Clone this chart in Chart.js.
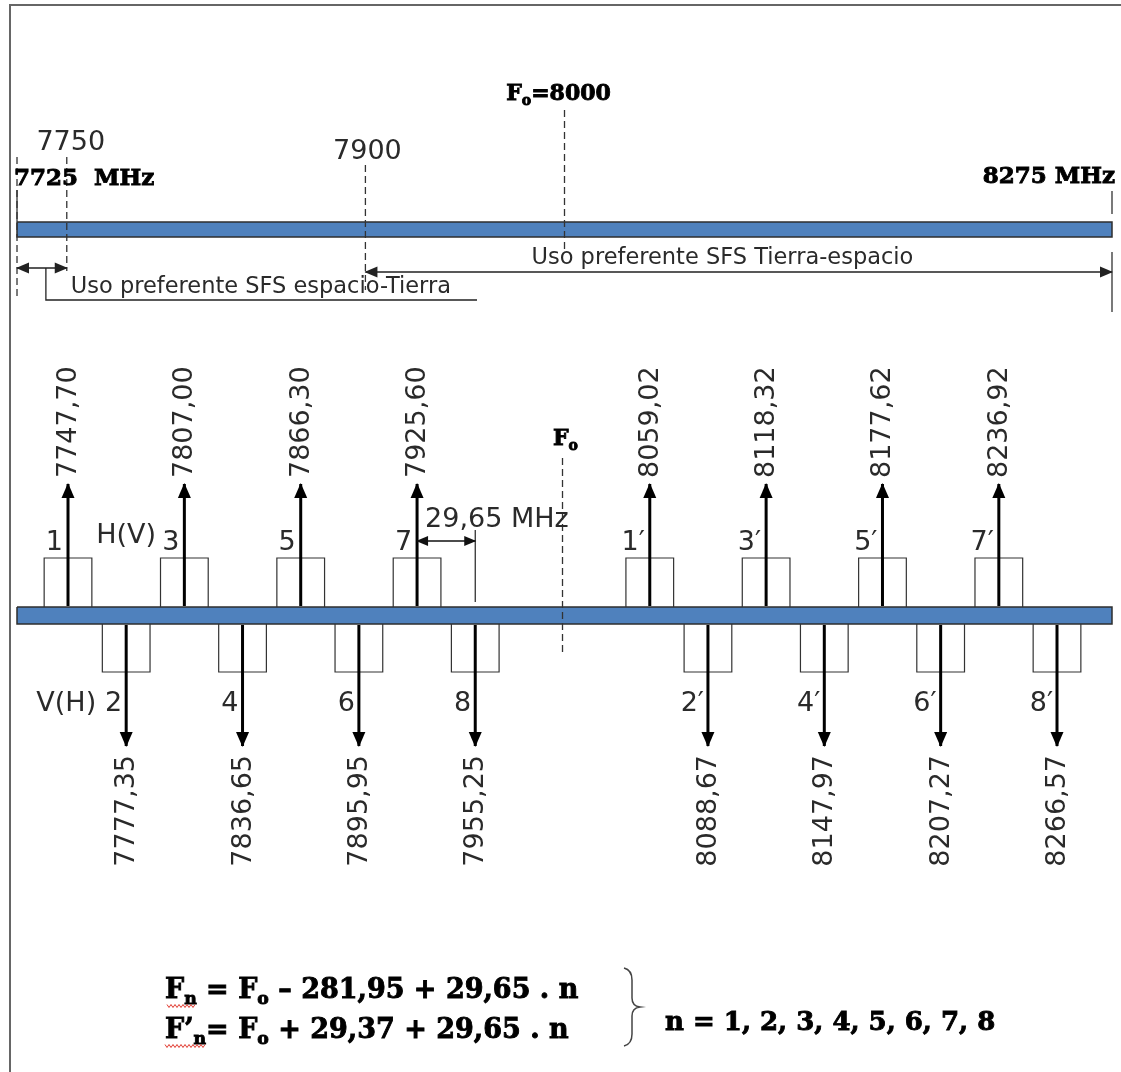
<!DOCTYPE html>
<html>
<head>
<meta charset="utf-8">
<script src="https://cdn.jsdelivr.net/npm/chart.js@4.4.1/dist/chart.umd.min.js"></script>
<style>
  html, body { margin: 0; padding: 0; background: #fff; }
  #wrap { position: relative; width: 1121px; height: 1072px; }
</style>
</head>
<body>
<div id="wrap"><canvas id="plan"></canvas></div>
<script>
// band (MHz)
const bandEdges = [7725, 8275];
const useLimits = [7750, 7900];   // end of espacio-Tierra / start of Tierra-espacio
const centreFreq = 8000;
const channelSpacing = 29.65;

// channel plan, H(V) above the band, V(H) below
const upNames = ['1', '3', '5', '7', '1′', '3′', '5′', '7′'];
const upFreqs = [7747.70, 7807.00, 7866.30, 7925.60, 8059.02, 8118.32, 8177.62, 8236.92];
const downNames = ['2', '4', '6', '8', '2′', '4′', '6′', '8′'];
const downFreqs = [7777.35, 7836.65, 7895.95, 7955.25, 8088.67, 8147.97, 8207.27, 8266.57];

// the channel row is drawn schematically: evenly spaced, two empty slots round Fo
const channels = upFreqs.map((f, i) => ({ f, name: upNames[i], up: true }))
  .concat(downFreqs.map((f, i) => ({ f, name: downNames[i], up: false })))
  .sort((a, b) => a.f - b.f);
channels.forEach((c, k) => { c.slot = k + (c.f > centreFreq ? 2 : 0); });
const lastLow = Math.max(...channels.filter(c => c.f < centreFreq).map(c => c.slot));
const firstHigh = Math.min(...channels.filter(c => c.f > centreFreq).map(c => c.slot));
const centreSlot = (lastLow + firstHigh) / 2;
const slotOf = name => channels.find(c => c.name === name).slot;

// vertical layout (rows of the drawing, top = 0)
const ROW = {
  topBar: [222, 237], lowBar: [607, 624],
  upBoxTop: 558, downBoxBot: 672,
  upTip: 484, downTip: 746,
  leftUse: 268, rightUse: 272, dim: 541
};
const BOX_HALF = 0.41;  // half channel width, in slots

function pairs(list) {
  const out = [];
  list.forEach(([x1, y1, x2, y2, h1, h2]) => {
    out.push({ x: x1, y: y1, head: !!h1 }, { x: x2, y: y2, head: !!h2 }, { x: x2, y: null });
  });
  return out;
}
function rect(x1, x2, y1, y2) {
  return [{ x: x1, y: y1 }, { x: x2, y: y1 }, { x: x2, y: y2 }, { x: x1, y: y2 }, { x: x1, y: y1 }];
}
function boxes(up) {
  const out = [];
  channels.filter(c => c.up === up).forEach(c => {
    const y0 = up ? ROW.lowBar[0] : ROW.lowBar[1];
    const y1 = up ? ROW.upBoxTop : ROW.downBoxBot;
    out.push({ x: c.slot - BOX_HALF, y: y0 }, { x: c.slot - BOX_HALF, y: y1 },
             { x: c.slot + BOX_HALF, y: y1 }, { x: c.slot + BOX_HALF, y: y0 }, { x: c.slot, y: null });
  });
  return out;
}

const datasets = [
  { // channel carriers
    xAxisID: 's', borderColor: '#000', borderWidth: 3, headLen: 14, headHalf: 6.5, order: 1,
    data: pairs(channels.map(c => c.up
      ? [c.slot, ROW.lowBar[0] - 1, c.slot, ROW.upTip, false, true]
      : [c.slot, ROW.lowBar[1] + 1, c.slot, ROW.downTip, false, true]))
  },
  { // 29,65 MHz spacing
    xAxisID: 's', borderColor: '#111', borderWidth: 1.5, headLen: 11, headHalf: 5, order: 1,
    data: pairs([[slotOf('7'), ROW.dim, slotOf('8'), ROW.dim, true, true]])
  },
  {
    xAxisID: 's', borderColor: '#222', borderWidth: 1.2, order: 1,
    data: pairs([[slotOf('8'), 530, slotOf('8'), 602]])
  },
  { // Fo in the channel row
    xAxisID: 's', borderColor: '#333', borderWidth: 1.3, borderDash: [7, 4], order: 1,
    data: pairs([[centreSlot, 458, centreSlot, 653]])
  },
  { xAxisID: 's', borderColor: '#333', borderWidth: 1.2, order: 2, data: boxes(true) },
  { xAxisID: 's', borderColor: '#333', borderWidth: 1.2, order: 2, data: boxes(false) },
  { // band limits, dashed
    borderColor: '#333', borderWidth: 1.3, borderDash: [7, 4], order: 1,
    data: pairs([
      [bandEdges[0], 157, bandEdges[0], 297],
      [useLimits[0], 157, useLimits[0], 271],
      [useLimits[1], 165, useLimits[1], 290],
      [centreFreq, 110, centreFreq, 250]
    ])
  },
  {
    borderColor: '#333', borderWidth: 1.3, order: 1,
    data: pairs([
      [bandEdges[0], 190, bandEdges[0], ROW.topBar[0]],
      [bandEdges[1], 191, bandEdges[1], 214],
      [bandEdges[1], 252, bandEdges[1], 312]
    ])
  },
  { // preferred use ranges
    borderColor: '#222', borderWidth: 1.3, headLen: 12, headHalf: 5.5, order: 1,
    data: pairs([
      [bandEdges[0], ROW.leftUse, useLimits[0], ROW.leftUse, true, true],
      [useLimits[1], ROW.rightUse, bandEdges[1], ROW.rightUse, true, true]
    ])
  },
  { // the band
    borderColor: '#2e2e2e', borderWidth: 1.5, backgroundColor: '#4f81bd', fill: 'shape', order: 5,
    data: rect(bandEdges[0], bandEdges[1], ROW.topBar[0], ROW.topBar[1])
  },
  {
    borderColor: '#2e2e2e', borderWidth: 1.5, backgroundColor: '#4f81bd', fill: 'shape', order: 5,
    data: rect(bandEdges[0], bandEdges[1], ROW.lowBar[0], ROW.lowBar[1])
  }
];

const frame = {
  id: 'frame',
  beforeDraw(chart) {
    const ctx = chart.ctx;
    ctx.save();
    ctx.strokeStyle = '#666';
    ctx.lineWidth = 2;
    ctx.beginPath();
    ctx.moveTo(10, 1072); ctx.lineTo(10, 5); ctx.lineTo(1121, 5);
    ctx.stroke();
    ctx.restore();
  }
};

const arrowHeads = {
  id: 'arrowHeads',
  afterDatasetsDraw(chart) {
    const ctx = chart.ctx;
    chart.data.datasets.forEach((ds, i) => {
      if (!ds.headLen) return;
      const pts = chart.getDatasetMeta(i).data;
      ds.data.forEach((d, j) => {
        if (!d.head) return;
        const p = pts[j], q = pts[j % 3 === 0 ? j + 1 : j - 1];
        const a = Math.atan2(p.y - q.y, p.x - q.x);
        ctx.save();
        ctx.translate(p.x, p.y);
        ctx.rotate(a);
        ctx.beginPath();
        ctx.moveTo(1, 0);
        ctx.lineTo(-ds.headLen, -ds.headHalf);
        ctx.lineTo(-ds.headLen, ds.headHalf);
        ctx.closePath();
        ctx.fillStyle = ds.borderColor;
        ctx.fill();
        ctx.restore();
      });
    });
  }
};

const SANS = '"DejaVu Sans", Verdana, sans-serif';
const SERIF = '"DejaVu Serif", Georgia, serif';
const fmt = v => v.toFixed(2).replace('.', ',');

// bold serif text with subscripts, thickened a little with a stroke
function rich(ctx, parts, x, y, size, family, align) {
  const widthOf = p => {
    ctx.font = `bold ${p.sub ? size * 0.64 : size}px ${family}`;
    return ctx.measureText(p.t).width;
  };
  const total = parts.reduce((s, p) => s + widthOf(p), 0);
  let cx = align === 'center' ? x - total / 2 : align === 'right' ? x - total : x;
  const marks = [];
  ctx.textAlign = 'left';
  ctx.lineWidth = 0.9;
  ctx.strokeStyle = ctx.fillStyle;
  parts.forEach(p => {
    const w = widthOf(p);
    const yy = y + (p.sub ? size * 0.24 : 0);
    ctx.fillText(p.t, cx, yy);
    ctx.strokeText(p.t, cx, yy);
    marks.push([cx, cx + w]);
    cx += w;
  });
  return marks;
}

function squiggle(ctx, x1, x2, y) {
  ctx.save();
  ctx.strokeStyle = '#e0392f';
  ctx.lineWidth = 1;
  ctx.beginPath();
  for (let x = x1, k = 0; x <= x2; x += 2, k++) {
    const yy = y + (k % 2 ? 1.5 : -1.5);
    k === 0 ? ctx.moveTo(x, yy) : ctx.lineTo(x, yy);
  }
  ctx.stroke();
  ctx.restore();
}

const labels = {
  id: 'labels',
  afterDatasetsDraw(chart) {
    const ctx = chart.ctx;
    const X = v => chart.scales.x.getPixelForValue(v);
    const S = v => chart.scales.s.getPixelForValue(v);
    ctx.save();
    ctx.textBaseline = 'alphabetic';

    // top band
    ctx.fillStyle = '#000';
    rich(ctx, [{ t: 'F' }, { t: 'o', sub: true }, { t: '=' + centreFreq }], X(centreFreq) - 6, 100, 22, SERIF, 'center');
    rich(ctx, [{ t: bandEdges[0] + '  MHz' }], X(bandEdges[0]) - 3, 185, 23, SERIF, 'left');
    rich(ctx, [{ t: bandEdges[1] + ' MHz' }], X(bandEdges[1]) + 3, 183, 23, SERIF, 'right');

    ctx.fillStyle = '#2a2a2a';
    ctx.font = `27px ${SANS}`;
    ctx.textAlign = 'center';
    ctx.fillText(String(useLimits[0]), X(useLimits[0]) + 4, 150);
    ctx.fillText(String(useLimits[1]), X(useLimits[1]) + 2, 159);

    ctx.font = `22.5px ${SANS}`;
    ctx.textAlign = 'left';
    ctx.fillText('Uso preferente SFS Tierra-espacio', X(centreFreq) - 33, 264);
    const leftTx = X(useLimits[0]) + 4;
    const leftTxt = 'Uso preferente SFS espacio-Tierra';
    ctx.fillText(leftTxt, leftTx, 293);
    // callout under the left label
    const lx = X((bandEdges[0] + useLimits[0]) / 2) + 4;
    ctx.strokeStyle = '#222';
    ctx.lineWidth = 1.3;
    ctx.beginPath();
    ctx.moveTo(lx, ROW.leftUse);
    ctx.lineTo(lx, 300);
    ctx.lineTo(leftTx + ctx.measureText(leftTxt).width + 26, 300);
    ctx.stroke();

    // channel row
    ctx.font = `27px ${SANS}`;
    channels.forEach(c => {
      const x = S(c.slot);
      ctx.save();
      ctx.translate(x + 1, c.up ? 478 : 755);
      ctx.rotate(-Math.PI / 2);
      ctx.textBaseline = 'middle';
      ctx.textAlign = c.up ? 'left' : 'right';
      ctx.fillText(fmt(c.f), 0, 0);
      ctx.restore();
      ctx.textAlign = 'right';
      ctx.fillText(c.name, x - (c.up ? 5 : 4), c.up ? 550 : 711);
    });
    ctx.textAlign = 'center';
    ctx.fillText('H(V)', S(slotOf(downNames[0])), 543);
    ctx.textAlign = 'right';
    ctx.fillText('V(H)', S(slotOf(downNames[0])) - 30, 711);
    ctx.textAlign = 'left';
    ctx.fillText(fmt(channelSpacing) + ' MHz', S(slotOf('7')) + 8, 527);

    ctx.fillStyle = '#000';
    rich(ctx, [{ t: 'F' }, { t: 'o', sub: true }], S(centreSlot) + 3, 445, 22, SERIF, 'center');

    // formulas
    const m1 = rich(ctx, [{ t: 'F' }, { t: 'n', sub: true }, { t: ' = F' }, { t: 'o', sub: true },
      { t: ' – 281,95 + 29,65 . n' }], 165, 998, 27, SERIF, 'left');
    const m2 = rich(ctx, [{ t: 'F’' }, { t: 'n', sub: true }, { t: '= F' }, { t: 'o', sub: true },
      { t: ' + 29,37 + 29,65 . n' }], 165, 1038, 27, SERIF, 'left');
    squiggle(ctx, m1[0][0] + 2, m1[1][1], 1006);
    squiggle(ctx, m2[0][0], m2[1][1], 1046);
    ctx.fillStyle = '#000';
    rich(ctx, [{ t: 'n = 1, 2, 3, 4, 5, 6, 7, 8' }], 665, 1030, 26, SERIF, 'left');

    // brace
    ctx.strokeStyle = '#444';
    ctx.lineWidth = 1.5;
    ctx.beginPath();
    ctx.moveTo(624, 968);
    ctx.quadraticCurveTo(632, 970, 632, 980);
    ctx.lineTo(632, 998);
    ctx.quadraticCurveTo(632, 1006, 640, 1007);
    ctx.quadraticCurveTo(632, 1008, 632, 1016);
    ctx.lineTo(632, 1034);
    ctx.quadraticCurveTo(632, 1044, 624, 1046);
    ctx.stroke();

    ctx.restore();
  }
};

new Chart(document.getElementById('plan'), {
  type: 'line',
  data: { datasets },
  options: {
    responsive: true,
    maintainAspectRatio: false,
    animation: false,
    events: [],
    layout: { padding: 0 },
    elements: { point: { radius: 0 }, line: { tension: 0, borderCapStyle: 'butt' } },
    plugins: { legend: { display: false }, tooltip: { enabled: false } },
    scales: {
      x: { type: 'linear', min: 7716.46, max: 8279.52, display: false },
      s: { type: 'linear', axis: 'x', min: -1.169, max: 18.1, display: false },
      y: { type: 'linear', min: 0, max: 1072, reverse: true, display: false }
    }
  },
  plugins: [frame, arrowHeads, labels]
});
</script>
</body>
</html>
